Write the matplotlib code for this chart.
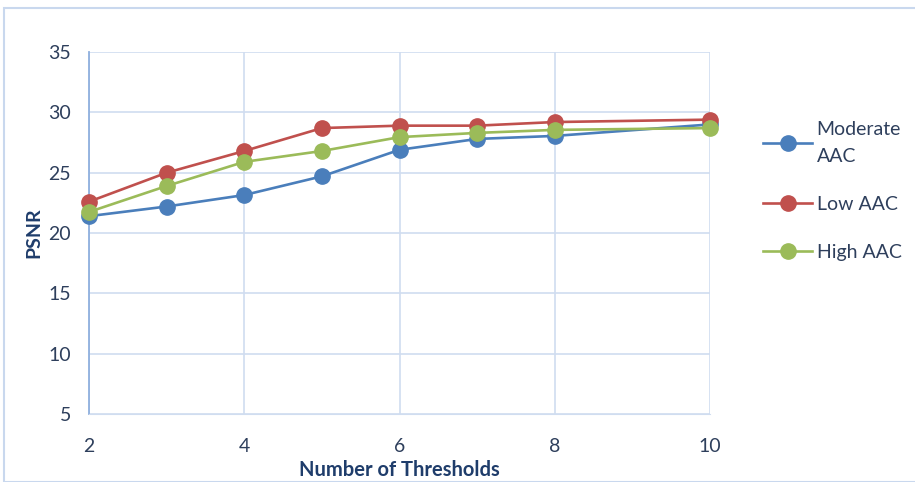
import matplotlib
matplotlib.use('Agg')
import matplotlib.pyplot as plt
from matplotlib.patches import Rectangle

# data
thresholds = [2, 3, 4, 5, 6, 7, 8, 10]
moderate = [21.4, 22.2, 23.15, 24.7, 26.9, 27.8, 28.05, 29.0]
low = [22.6, 25.0, 26.8, 28.7, 28.9, 28.9, 29.2, 29.4]
high = [21.75, 23.9, 25.9, 26.8, 27.95, 28.3, 28.55, 28.7]
labels = ['Moderate\nAAC', 'Low AAC', 'High AAC']
colors = ['#4A7EBB', '#C0504D', '#9BBB59']

plt.rcParams['font.family'] = ['Lato', 'DejaVu Sans']
txt_color = '#2E3F5C'
lab_color = '#1F3D6B'

fig = plt.figure(figsize=(9.15, 4.82), dpi=100)
ax = fig.add_axes([0.0973, 0.141, 0.6787, 0.751])

# outer chart-area border
fig.patches.append(Rectangle((4 / 915, 0), 1.0, 1 - 8 / 482, transform=fig.transFigure,
                             fill=False, edgecolor='#C9D8EE', linewidth=1.5))

for ys, c, lab in zip([moderate, low, high], colors, labels):
    ax.plot(thresholds, ys, color=c, linewidth=1.9, marker='o', markersize=11,
            markeredgecolor=c, label=lab, clip_on=False, zorder=3)

ax.set_xlim(2, 10)
ax.set_ylim(5, 35)
ax.set_xticks([2, 4, 6, 8, 10])
ax.set_yticks(range(5, 40, 5))
ax.grid(True, color='#D0DDF0', linewidth=1.2)
ax.set_axisbelow(True)
for s in ['top', 'right']:
    ax.spines[s].set_visible(False)
ax.spines['left'].set_color('#8FB0DE')
ax.spines['left'].set_linewidth(1.3)
ax.spines['bottom'].set_color('#D0DDF0')
ax.tick_params(length=0, labelsize=14, labelcolor=txt_color)
ax.tick_params(axis='x', pad=17)
ax.tick_params(axis='y', pad=13)

ax.set_xlabel('Number of Thresholds', fontsize=14.5, fontweight='bold', color=lab_color, labelpad=4)
ax.set_ylabel('PSNR', fontsize=14, fontweight='bold', color=lab_color, labelpad=4)

leg = fig.legend(loc='upper left', bbox_to_anchor=(0.815, 0.785), frameon=False,
                 fontsize=14, labelcolor=txt_color, handlelength=2.5,
                 handletextpad=0.25, labelspacing=1.6)
for t in leg.get_texts():
    t.set_linespacing(1.7)

fig.savefig('out.png', dpi=100)
